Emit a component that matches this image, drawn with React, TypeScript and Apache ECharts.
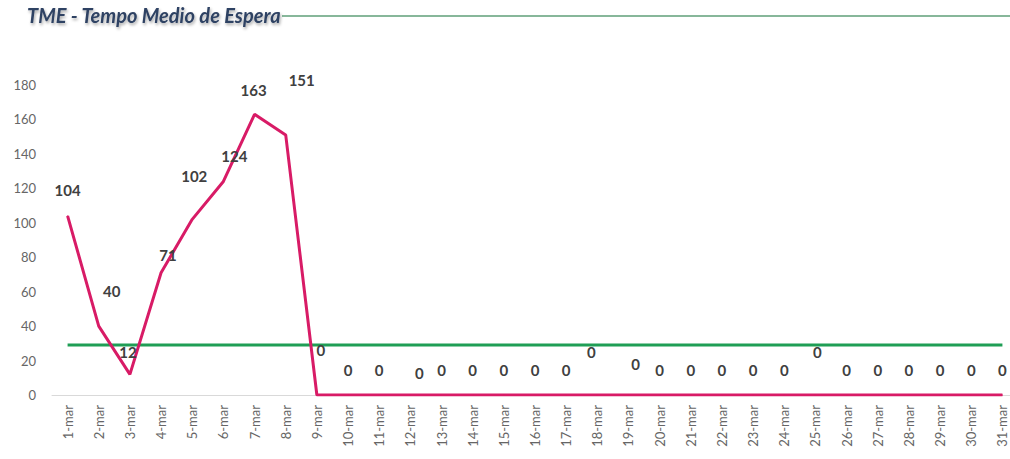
import React, { useEffect, useRef } from "react";
import * as echarts from "echarts";

const categories: string[] = [
  "1-mar", "2-mar", "3-mar", "4-mar", "5-mar", "6-mar", "7-mar", "8-mar", "9-mar", "10-mar",
  "11-mar", "12-mar", "13-mar", "14-mar", "15-mar", "16-mar", "17-mar", "18-mar", "19-mar", "20-mar",
  "21-mar", "22-mar", "23-mar", "24-mar", "25-mar", "26-mar", "27-mar", "28-mar", "29-mar", "30-mar",
  "31-mar",
];

const tmeValues: number[] = [
  104, 40, 12, 71, 102, 124, 163, 151, 0, 0,
  0, 0, 0, 0, 0, 0, 0, 0, 0, 0,
  0, 0, 0, 0, 0, 0, 0, 0, 0, 0,
  0,
];

const targetValues: number[] = [
  29, 29, 29, 29, 29, 29, 29, 29, 29, 29,
  29, 29, 29, 29, 29, 29, 29, 29, 29, 29,
  29, 29, 29, 29, 29, 29, 29, 29, 29, 29,
  29,
];

const yTicks = { min: 0, max: 180, interval: 20 };

// label nudges (style only), [dx, dy] relative to each point
const labelNudges: [number, number][] = [
  [0, -26], [13, -35], [-2, -22], [7, -18], [2, -43], [11, -25], [-1, -24], [16, -55], [4, -45], [0, -25],
  [0, -25], [9, -22], [0, -25], [0, -25], [0, -25], [0, -25], [0, -25], [-6, -43], [7, -31], [0, -25],
  [0, -25], [0, -25], [0, -25], [0, -25], [2, -43], [0, -25], [0, -25], [0, -25], [0, -25], [0, -25],
  [0, -25],
];

export default function App() {
  const ref = useRef<HTMLDivElement>(null);
  useEffect(() => {
    if (!ref.current) return;
    const chart = echarts.init(ref.current, undefined, { renderer: "svg" });
    const font = "Lato, 'Open Sans', sans-serif";
    chart.setOption({
      animation: false,
      backgroundColor: "#ffffff",
      textStyle: { fontFamily: font },
      grid: { left: 52, top: 85, bottom: 64, width: 966 },
      graphic: [
        {
          type: "line",
          shape: { x1: 282, y1: 16, x2: 1010, y2: 16 },
          style: { stroke: "#5f9f78", lineWidth: 1.5 },
          z: 1,
        },
        {
          type: "text",
          left: 27,
          top: 5,
          style: {
            text: "TME - Tempo Medio de Espera",
            fontFamily: font,
            fontSize: 20,
            fontStyle: "italic",
            fontWeight: "bold",
            fill: "#2f4263",
            textShadowColor: "rgba(0,0,0,0.35)",
            textShadowBlur: 3,
            textShadowOffsetX: 1,
            textShadowOffsetY: 2,
          },
          z: 2,
        },
      ],
      xAxis: {
        type: "category",
        data: categories,
        boundaryGap: true,
        axisLine: { show: true, lineStyle: { color: "#d9d9d9", width: 1 } },
        axisTick: { show: false },
        axisLabel: { rotate: 90, color: "#666666", fontSize: 13, margin: 10, fontFamily: font, interval: 0 },
        splitLine: { show: false },
      },
      yAxis: {
        type: "value",
        min: yTicks.min,
        max: yTicks.max,
        interval: yTicks.interval,
        axisLine: { show: false },
        axisTick: { show: false },
        splitLine: { show: false },
        axisLabel: { color: "#666666", fontSize: 13, margin: 16, fontFamily: font },
      },
      series: [
        {
          name: "Meta",
          type: "line",
          data: targetValues,
          symbol: "none",
          lineStyle: { color: "#1f9e55", width: 3 },
          z: 2,
        },
        {
          name: "TME",
          type: "line",
          data: tmeValues.map((v, i) => ({
            value: v,
            label: { offset: labelNudges[i] },
          })),
          symbol: "circle",
          symbolSize: 1,
          itemStyle: { color: "#d81b66" },
          lineStyle: { color: "#d81b66", width: 3 },
          label: {
            show: true,
            position: "inside",
            align: "center",
            verticalAlign: "middle",
            color: "#404040",
            fontSize: 15,
            fontWeight: "bold",
            fontFamily: font,
          },
          z: 3,
        },
      ],
    });
    return () => chart.dispose();
  }, []);
  return (
    <div style={{ position: "fixed", left: 0, top: 0, width: 1010, height: 459, overflow: "hidden" }}>
      <div ref={ref} style={{ width: 1030, height: 459 }} />
    </div>
  );
}
